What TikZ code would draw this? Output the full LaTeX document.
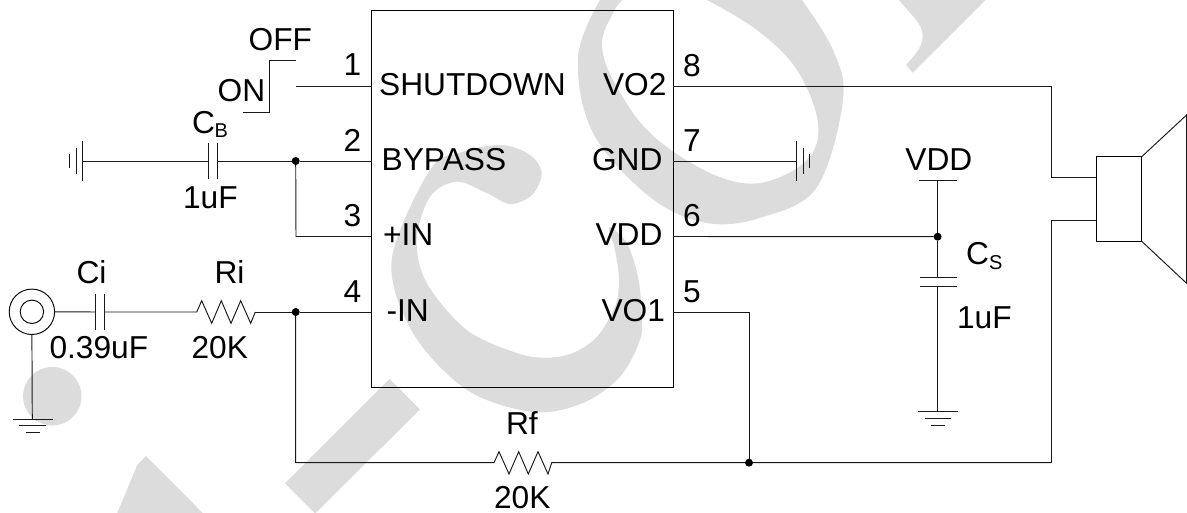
\documentclass[tikz,border=0pt]{standalone}
\usepackage{fontspec}
\setmainfont{Liberation Sans}
\definecolor{wm}{HTML}{DCDCDC}
\tikzset{
  wire/.style={line width=0.95pt,black!90,line join=miter},
  plate/.style={line width=0.95pt,black!90},
  wmark/.style={fill=wm,draw=none},
  lbl/.style={inner sep=0pt,outer sep=0pt,anchor=base west,font=\fontsize{31.7}{36}\selectfont,text=black},
  lble/.style={lbl,anchor=base east},
  subl/.style={inner sep=0pt,outer sep=0pt,anchor=base west,font=\fontsize{20}{24}\selectfont,text=black},
  jdot/.style={circle,fill=black,inner sep=0pt,minimum size=8pt,outer sep=0pt},
  icbox/.style={draw=black,line width=0.95pt,inner sep=0pt,outer sep=0pt,minimum width=301.7pt,minimum height=376.5pt},
  ring/.style={circle,draw=black,line width=0.95pt,inner sep=0pt,outer sep=0pt}
}
\begin{document}
\begin{tikzpicture}[x=1pt,y=-1pt]
\useasboundingbox (0,0) rectangle (1187,513);
\fill[white] (0,0) rectangle (1187,513);
% watermark
\begin{scope}
\clip (0,0) rectangle (1187,513);
\fill[wmark] (899,0) .. controls (912,16) and (923,24) .. (922.7,37) .. controls (922,48) and (914,56) .. (906,65) -- (912.7,72.7) -- (985.7,0) -- cycle;
\fill[wmark] (389.5,379) -- (420,409.3) -- (315,513.5) -- (285,483.3) -- cycle;
\fill[wmark] (146,456) -- (137.3,465) -- (117.3,513) -- (202.7,513) -- cycle;
\fill[wmark] (52.3,396.2) circle[radius=29.2];
\fill[wmark,even odd rule]
  plot[smooth,tension=0.6] coordinates {(600,0) (578,57) (593,133) (650,197) (707,223) (763,217) (817,187) (843,100) (833,50) (802,0)} -- cycle
  plot[smooth,tension=0.6] coordinates {(622,0) (613,13) (602,43) (613,80) (650,133) (710,173) (760,183) (807,160) (818,123) (797,70) (757,30) (707,0)} -- cycle;
\fill[wmark] plot[smooth cycle,tension=0.55] coordinates {
  (501.7,145) (462,152) (430,170) (391.7,260) (413,333) (467,390) (533,412) (583,403) (620,376.7) (640,340) (641.7,313) (638,277) (626.7,243) (609,227)
  (615,250) (619,280) (615,306.7) (597,336.7) (573,353) (546.7,357.7) (516.7,353) (466.7,330) (426.7,283) (416.7,240) (430,196.7) (456.7,181.7) (486.7,193) (510,204) (532,195) (541.7,173.3) (530,155)};
\end{scope}
% IC
\node[icbox] (ic) at (522.4,198.8) {};
\coordinate (p1) at (371.6,86);
\coordinate (p2) at (371.6,161);
\coordinate (p3) at (371.6,236.5);
\coordinate (p4) at (371.6,312);
\coordinate (p8) at (673.3,86);
\coordinate (p7) at (673.3,161);
\coordinate (p6) at (673.3,236.5);
\coordinate (p5) at (673.3,312);
% switch
\coordinate (s1) at (296,86);
\coordinate (s2) at (296,60);
\coordinate (s3) at (269.4,60);
\coordinate (s4) at (269.4,112.3);
\coordinate (s5) at (243,112.3);
\draw[wire] (p1) -- (s1);
\draw[wire] (s2) -- (s3) -- (s4) -- (s5);
% CB
\node[jdot] (j2) at (295.7,161) {};
\coordinate (cbl) at (208.5,161);
\coordinate (cbr) at (217.5,161);
\coordinate (g1) at (82.5,161);
\draw[wire] (p2) -- (j2) -- (cbr);
\draw[wire] (cbl) -- (g1);
\draw[plate] (208.5,143.5) -- (208.5,179.5);
\draw[plate] (217.5,143.5) -- (217.5,179.5);
\draw[plate] (82.5,141.5) -- (82.5,181);
\draw[plate] (76,148.3) -- (76,174.3);
\draw[plate] (69.5,154.3) -- (69.5,168.3);
\coordinate (c3) at (296,236.5);
\draw[wire] (j2) -- (c3) -- (p3);
% input
\node[ring,minimum size=45.4pt] (jo) at (31.9,311.8) {};
\node[ring,minimum size=23.4pt] (ji) at (31.9,311.8) {};
\coordinate (cil) at (95.5,312);
\coordinate (cir) at (104.3,312);
\draw[wire] (jo.east) -- (cil);
\draw[plate] (95.5,294) -- (95.5,330);
\draw[plate] (104.3,294) -- (104.3,330);
\coordinate (ril) at (196.7,312);
\coordinate (rir) at (255.3,312);
\draw[wire] (cir) -- (ril) -- (201.7,300.7) -- (211.7,323.3) -- (221.3,300.7) -- (231,323.3) -- (240.7,300.7) -- (250.7,323.3) -- (rir);
\node[jdot] (j4) at (295.7,312) {};
\draw[wire] (rir) -- (j4) -- (p4);
\coordinate (g2) at (32.3,419.3);
\draw[wire] (jo.south) -- (g2);
\draw[plate] (12.7,419.3) -- (52.7,419.3);
\draw[plate] (19.3,425.7) -- (46,425.7);
\draw[plate] (25.7,432.3) -- (40,432.3);
% feedback
\coordinate (f1) at (295.7,462.7);
\coordinate (rfl) at (494,462.7);
\coordinate (rfr) at (551.7,462.7);
\node[jdot] (j5) at (749,462.7) {};
\coordinate (f5) at (749,312);
\coordinate (f9) at (1051,462.7);
\draw[wire] (j4) -- (f1) -- (rfl) -- (499,451.7) -- (509,474) -- (518.7,451.7) -- (528.3,474) -- (538,451.7) -- (548,474) -- (rfr) -- (j5) -- (f9);
\draw[wire] (p5) -- (f5) -- (j5);
% GND pin 7
\coordinate (g3) at (796.3,161);
\draw[wire] (p7) -- (g3);
\draw[plate] (796.3,141.5) -- (796.3,181);
\draw[plate] (803,148.3) -- (803,174.3);
\draw[plate] (809.3,154.3) -- (809.3,168.3);
% VDD
\coordinate (v0) at (937.6,180);
\node[jdot] (j6) at (937.6,236.7) {};
\coordinate (cst) at (937.6,277.3);
\coordinate (csb) at (937.6,286.3);
\coordinate (g4) at (937.6,411.7);
\draw[plate] (918.8,180) -- (957,180);
\draw[wire] (v0) -- (j6) -- (cst);
\draw[wire] (p6) -- (j6);
\draw[plate] (919.5,277.3) -- (956.5,277.3);
\draw[plate] (919.5,286.3) -- (956.5,286.3);
\draw[wire] (csb) -- (g4);
\draw[plate] (918,411.7) -- (958,411.7);
\draw[plate] (924.5,418) -- (951,418);
\draw[plate] (930.6,425) -- (945,425);
% speaker
\node[draw=black,line width=0.95pt,inner sep=0pt,outer sep=0pt,minimum width=45.4pt,minimum height=84.6pt] (spk) at (1119,199) {};
\coordinate (w1) at (1051,86);
\coordinate (w2) at (1051,177.7);
\coordinate (w3) at (1096.3,177.7);
\coordinate (w4) at (1096.3,220);
\coordinate (w5) at (1051,220);
\draw[wire] (p8) -- (w1) -- (w2) -- (w3);
\draw[wire] (w4) -- (w5) -- (f9);
\draw[wire] (spk.north east) -- (1186.6,115) -- (1186.6,283.3) -- (spk.south east);
% labels
\node[lbl] (off) at (248.7,50.7) {OFF};
\node[lbl] (on) at (217.7,102) {ON};
\node[lbl] (cb) at (192,133.3) {C};
\node[subl] (cbs) at (214.5,137.7) {B};
\node[lbl] (cbv) at (183,209) {1uF};
\node[lbl] (n1) at (343.5,76) {1};
\node[lbl] (n2) at (343.5,151.7) {2};
\node[lbl] (n3) at (343.5,226.7) {3};
\node[lbl] (n4) at (343.5,302.7) {4};
\node[lbl] (n8) at (683,77) {8};
\node[lbl] (n7) at (683,152) {7};
\node[lbl] (n6) at (683,227) {6};
\node[lbl] (n5) at (683,302.7) {5};
\node[lbl] (t1) at (379.2,96) {SHUTDOWN};
\node[lbl] (t2) at (381.7,170.7) {BYPASS};
\node[lbl] (t3) at (383,245.3) {+IN};
\node[lbl] (t4) at (386.5,321.7) {-IN};
\node[lble] (t8) at (666.5,96) {VO2};
\node[lble] (t7) at (662.5,170.7) {GND};
\node[lble] (t6) at (662.5,245.3) {VDD};
\node[lble] (t5) at (665,321.7) {VO1};
\node[lbl] (ci) at (76.5,283.3) {Ci};
\node[lbl] (civ) at (49.5,358.3) {0.39uF};
\node[lbl] (ri) at (214.5,283.3) {Ri};
\node[lbl] (riv) at (191.5,358.3) {20K};
\node[lbl] (rf) at (506,434.3) {Rf};
\node[lbl] (rfv) at (494,508.3) {20K};
\node[lbl] (vdd) at (905.4,171) {VDD};
\node[lbl] (cs) at (966,264.3) {C};
\node[subl] (css) at (989,269.3) {S};
\node[lbl] (csv) at (957,328) {1uF};
\end{tikzpicture}
\end{document}
